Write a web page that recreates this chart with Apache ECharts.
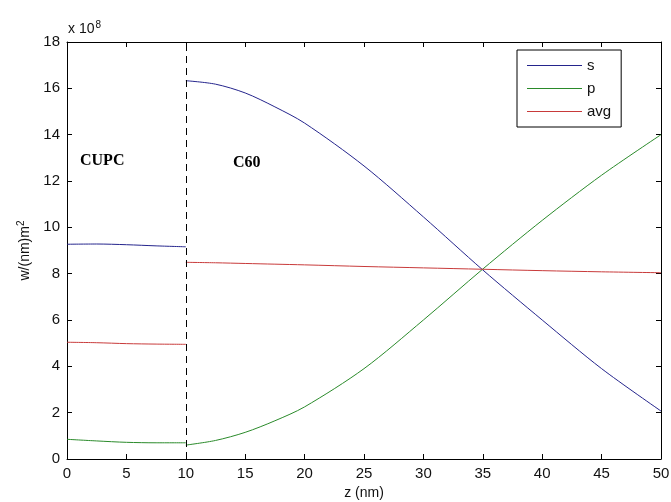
<!DOCTYPE html>
<html>
<head>
<meta charset="utf-8">
<script src="https://cdn.jsdelivr.net/npm/echarts@6/dist/echarts.min.js"></script>
<style>
  html, body { margin: 0; padding: 0; background: #fff; }
  #main { width: 671px; height: 502px; }
</style>
</head>
<body>
<div id="main"></div>
<script>
// CUPC layer (0-10 nm)
var zCupc = [0, 2.5, 5, 7.5, 10];
var sCupc = [9.27, 9.28, 9.25, 9.2, 9.16];
var pCupc = [0.85, 0.78, 0.72, 0.70, 0.70];
var avgCupc = [5.04, 5.02, 4.98, 4.96, 4.95];

// C60 layer (10-50 nm)
var zC60 = [10, 12.5, 15, 17.5, 20, 25, 30, 35, 40, 45, 50];
var sC60 = [16.33, 16.18, 15.8, 15.2, 14.5, 12.65, 10.45, 8.16, 6.0, 3.9, 2.07];
var pC60 = [0.6, 0.8, 1.15, 1.65, 2.25, 3.9, 6.0, 8.2, 10.3, 12.25, 14.0];
var avgC60 = [8.49, 8.47, 8.44, 8.41, 8.38, 8.31, 8.25, 8.19, 8.13, 8.08, 8.04];

var names = ['s', 'p', 'avg'];
var colors = ['#24248c', '#2a8a2a', '#c83a3a'];
var font = 'Liberation Sans, Arial, sans-serif';

function pairs(xs, ys) {
    return xs.map(function(x, i) { return [x, ys[i]]; });
}

var myChart = echarts.init(document.getElementById('main'));

var axisCommon = {
    type: 'value',
    splitLine: { show: false },
    axisLine: { show: true, onZero: false, lineStyle: { color: '#000', width: 1 } },
    axisTick: { inside: true, length: 5, lineStyle: { color: '#000' } }
};

var series = [];
var layers = [
    [zCupc, [sCupc, pCupc, avgCupc]],
    [zC60, [sC60, pC60, avgC60]]
];
layers.forEach(function(layer) {
    layer[1].forEach(function(vals, k) {
        series.push({
            name: names[k],
            type: 'line',
            smooth: 0.3,
            symbol: 'none',
            color: colors[k],
            lineStyle: { width: 1, color: colors[k] },
            data: pairs(layer[0], vals)
        });
    });
});
series[0].markLine = {
    silent: true,
    symbol: 'none',
    label: { show: false },
    lineStyle: { color: '#000', type: [7, 5], width: 1 },
    data: [{ xAxis: 10 }]
};

option = {
    color: colors,
    animation: false,
    grid: { left: 67, right: 10, top: 42, bottom: 43, outerBoundsMode: 'none' },
    legend: {
        data: names,
        orient: 'vertical',
        left: 517,
        top: 50,
        padding: [8, 10, 8, 10],
        itemGap: 8,
        itemWidth: 55,
        itemHeight: 1,
        icon: 'rect',
        borderColor: '#000',
        borderWidth: 1,
        textStyle: { fontFamily: font, fontSize: 15, lineHeight: 15, color: '#111' }
    },
    xAxis: [
        Object.assign({}, axisCommon, {
            min: 0, max: 50, interval: 5,
            name: 'z (nm)',
            nameLocation: 'middle',
            nameGap: 26,
            nameTextStyle: { fontFamily: font, fontSize: 14, color: '#111' },
            axisLabel: { fontFamily: font, fontSize: 15, color: '#111', margin: 7 }
        }),
        Object.assign({}, axisCommon, {
            min: 0, max: 50, interval: 5, position: 'top',
            axisLabel: { show: false }
        })
    ],
    yAxis: [
        Object.assign({}, axisCommon, {
            min: 0, max: 18, interval: 2,
            name: 'w/(nm)m{sup|2}',
            nameLocation: 'middle',
            nameRotate: 90,
            nameGap: 32,
            nameTextStyle: {
                fontFamily: font, fontSize: 14, color: '#111',
                rich: { sup: { fontFamily: font, fontSize: 10, verticalAlign: 'top', padding: [0, 0, 8, 0] } }
            },
            axisLabel: { fontFamily: font, fontSize: 15, color: '#111', margin: 7 }
        }),
        Object.assign({}, axisCommon, {
            min: 0, max: 18, interval: 2, position: 'right',
            axisLabel: { show: false }
        })
    ],
    graphic: [
        {
            type: 'text', left: 68, top: 20,
            style: {
                text: 'x 10{sup|8}',
                font: '14px ' + font,
                fill: '#111',
                rich: { sup: { fontSize: 10, fontFamily: font, padding: [0, 0, 9, 1] } }
            }
        },
        {
            type: 'text', left: 80, top: 153,
            style: { text: 'CUPC', font: 'bold 16px "Liberation Serif", "Times New Roman", serif', fill: '#000' }
        },
        {
            type: 'text', left: 233, top: 155,
            style: { text: 'C60', font: 'bold 16px "Liberation Serif", "Times New Roman", serif', fill: '#000' }
        }
    ],
    series: series
};
myChart.setOption(option);
window.onresize = myChart.resize;
</script>
</body>
</html>
